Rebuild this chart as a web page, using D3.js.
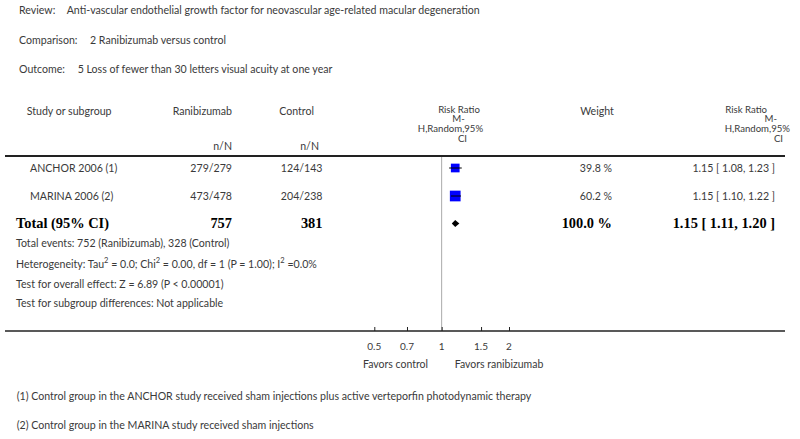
<!DOCTYPE html>
<html><head><meta charset="utf-8">
<script src="https://cdn.jsdelivr.net/npm/d3@7"></script>
<style>
body{margin:0;background:#fff;}
svg{display:block;}
</style></head>
<body>
<svg id="c" width="800" height="439"></svg>
<script>
// ---- data ----
const studies = ["ANCHOR 2006 (1)", "MARINA 2006 (2)"];
const ranEvents = [279, 473];
const ranTotals = [279, 478];
const ctlEvents = [124, 204];
const ctlTotals = [143, 238];
const weights = [39.8, 60.2];
const rr = [1.15, 1.15];
const lower = [1.08, 1.10];
const upper = [1.23, 1.22];
const total = {ran: 757, ctl: 381, weight: 100.0, rr: 1.15, lo: 1.11, hi: 1.20};
const tickValues = [0.5, 0.7, 1, 1.5, 2];
const tickLabels = ["0.5", "0.7", "1", "1.5", "2"];
const infoLines = ["Review:", "Comparison:", "Outcome:"];
const infoTexts = ["Anti-vascular endothelial growth factor for neovascular age-related macular degeneration",
  "2 Ranibizumab versus control", "5 Loss of fewer than 30 letters visual acuity at one year"];
const footnotes = ["(1) Control group in the ANCHOR study received sham injections plus active verteporfin photodynamic therapy",
  "(2) Control group in the MARINA study received sham injections"];

const svg = d3.select("#c");
const sans = "Lato, 'Open Sans', sans-serif";
const serif = "'Liberation Serif', 'DejaVu Serif', serif";
const fs = 10.6;
const grey = "#3a3a3a";

const x = d3.scaleLog().domain([0.5, 2]).range([374.3, 509]);
const rowY = [169, 197];
const totalY = 225;

function txt(xp, yp, s, opts = {}) {
  return svg.append("text").attr("x", xp).attr("y", yp)
    .attr("dominant-baseline", "middle")
    .attr("text-anchor", opts.anchor || "start")
    .attr("font-family", opts.family || sans)
    .attr("font-size", opts.size || fs)
    .attr("font-weight", opts.weight || "normal")
    .attr("fill", opts.fill || grey)
    .text(s);
}

// header info
const infoX2 = [66.7, 90, 77.7];
[11.7, 41.7, 70.7].forEach((yy, i) => {
  txt(19, yy, infoLines[i]);
  txt(infoX2[i], yy, infoTexts[i]);
});

// column headers
const hs = 9.6;
txt(26.7, 112, "Study or subgroup");
txt(232, 112, "Ranibizumab", {anchor: "end"});
txt(314, 112, "Control", {anchor: "end"});
txt(232, 147, "n/N", {anchor: "end"});
txt(319, 147, "n/N", {anchor: "end"});
txt(459, 110.5, "Risk Ratio", {anchor: "middle", size: hs});
txt(458.5, 120, "M-", {anchor: "middle", size: hs});
txt(450.5, 129.5, "H,Random,95%", {anchor: "middle", size: hs});
txt(462.5, 140, "CI", {anchor: "middle", size: hs});
txt(597, 112, "Weight", {anchor: "middle"});
txt(767, 110.5, "Risk Ratio", {anchor: "end", size: hs});
txt(777, 120, "M-", {anchor: "end", size: hs});
txt(790, 129.5, "H,Random,95%", {anchor: "end", size: hs});
txt(783, 140, "CI", {anchor: "end", size: hs});

// header rule
svg.append("line").attr("x1", 5).attr("x2", 785).attr("y1", 156).attr("y2", 156)
  .attr("stroke", "#222").attr("stroke-width", 2);

// null line
svg.append("line").attr("x1", x(1)).attr("x2", x(1)).attr("y1", 157).attr("y2", 331)
  .attr("stroke", "#aaa").attr("stroke-width", 1);

// study rows
studies.forEach((s, i) => {
  const y = rowY[i];
  txt(30, y, s);
  txt(232, y, ranEvents[i] + "/" + ranTotals[i], {anchor: "end"});
  txt(322.5, y, ctlEvents[i] + "/" + ctlTotals[i], {anchor: "end"});
  txt(612, y, weights[i].toFixed(1) + " %", {anchor: "end"});
  txt(775, y, rr[i].toFixed(2) + " [ " + lower[i].toFixed(2) + ", " + upper[i].toFixed(2) + " ]", {anchor: "end"});
  const sz = 1.38 * Math.sqrt(weights[i]);
  svg.append("rect").attr("x", x(rr[i]) - sz / 2).attr("y", y - 1 - sz / 2)
    .attr("width", sz).attr("height", sz).attr("fill", "#0000ff");
  svg.append("line").attr("x1", x(lower[i])).attr("x2", x(upper[i]))
    .attr("y1", y - 1).attr("y2", y - 1).attr("stroke", "#000").attr("stroke-width", 1);
});

// total row
const bopt = {family: serif, size: 14.4, weight: "bold", fill: "#000"};
txt(16, totalY, "Total (95% CI)", bopt);
txt(232, totalY, String(total.ran), Object.assign({anchor: "end"}, bopt));
txt(322.5, totalY, String(total.ctl), Object.assign({anchor: "end"}, bopt));
txt(612, totalY, total.weight.toFixed(1) + " %", Object.assign({anchor: "end"}, bopt));
txt(775, totalY, total.rr.toFixed(2) + " [ " + total.lo.toFixed(2) + ", " + total.hi.toFixed(2) + " ]", Object.assign({anchor: "end"}, bopt));
const dy = totalY - 1.5, dh = 3.5;
svg.append("path")
  .attr("d", `M${x(total.lo)},${dy} L${x(total.rr)},${dy - dh} L${x(total.hi)},${dy} L${x(total.rr)},${dy + dh} Z`)
  .attr("fill", "#000");

// summary text lines
txt(16, 244, "Total events: 752 (Ranibizumab), 328 (Control)");
const het = txt(16, 265, "Heterogeneity: Tau");
het.append("tspan").attr("dy", -4).attr("font-size", 7.5).text("2");
het.append("tspan").attr("dy", 4).text(" = 0.0; Chi");
het.append("tspan").attr("dy", -4).attr("font-size", 7.5).text("2");
het.append("tspan").attr("dy", 4).text(" = 0.00, df = 1 (P = 1.00); I");
het.append("tspan").attr("dy", -4).attr("font-size", 7.5).text("2");
het.append("tspan").attr("dy", 4).text(" =0.0%");
txt(16, 285, "Test for overall effect: Z = 6.89 (P < 0.00001)");
txt(16, 304, "Test for subgroup differences: Not applicable");

// axis
const axisY = 331;
svg.append("line").attr("x1", 5).attr("x2", 785).attr("y1", axisY).attr("y2", axisY)
  .attr("stroke", "#222").attr("stroke-width", 1.5);
const ax = svg.append("g").attr("transform", `translate(0,${axisY})`)
  .call(d3.axisTop(x).tickValues(tickValues).tickSize(4).tickFormat(""));
ax.select(".domain").remove();
ax.selectAll(".tick line").attr("stroke", "#222");
tickValues.forEach((v, i) => txt(x(v), 347, tickLabels[i], {anchor: "middle", size: 10}));
txt(395.5, 365, "Favors control", {anchor: "middle", size: 10.5});
txt(499, 365, "Favors ranibizumab", {anchor: "middle", size: 10.5});

// footnotes
txt(16.7, 397, footnotes[0]);
txt(16.7, 426, footnotes[1]);
</script>
</body></html>
